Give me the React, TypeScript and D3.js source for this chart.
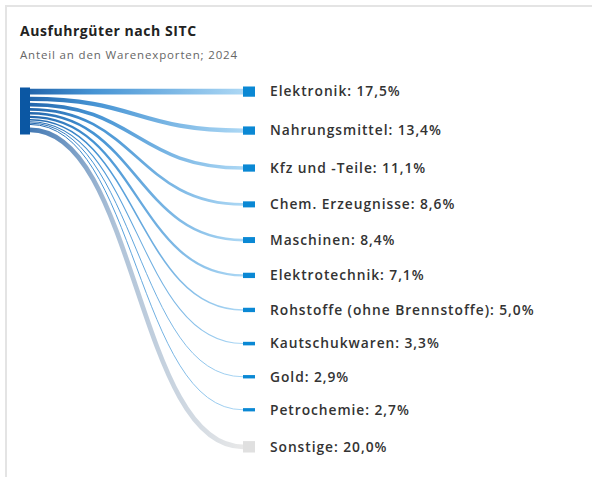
import React, { useEffect, useRef } from "react";
import * as d3 from "d3";

// Anteil an den Warenexporten 2024, in %
const categories = [
  "Elektronik",
  "Nahrungsmittel",
  "Kfz und -Teile",
  "Chem. Erzeugnisse",
  "Maschinen",
  "Elektrotechnik",
  "Rohstoffe (ohne Brennstoffe)",
  "Kautschukwaren",
  "Gold",
  "Petrochemie",
  "Sonstige",
];
const shares = [17.5, 13.4, 11.1, 8.6, 8.4, 7.1, 5.0, 3.3, 2.9, 2.7, 20.0];
const otherLabel = "Sonstige";

const title = "Ausfuhrgüter nach SITC";
const subtitle = "Anteil an den Warenexporten; 2024";

const W = 592;
const H = 477;

const App = () => {
  const ref = useRef<SVGSVGElement>(null);

  useEffect(() => {
    const svg = d3.select(ref.current);
    svg.selectAll("*").remove();

    const font = "'Open Sans', 'Noto Sans', sans-serif";
    const fmt = (v: number) => v.toFixed(1).replace(".", ",") + "%";

    // card frame
    svg
      .append("rect")
      .attr("x", 6)
      .attr("y", 6)
      .attr("width", W + 20)
      .attr("height", H + 20)
      .attr("fill", "#fff")
      .attr("stroke", "#e4e4e4")
      .attr("stroke-width", 2);

    svg
      .append("text")
      .attr("x", 20)
      .attr("y", 36)
      .attr("font-family", font)
      .attr("font-size", 14)
      .attr("font-weight", 700)
      .attr("letter-spacing", 0.55)
      .attr("fill", "#222")
      .text(title);

    svg
      .append("text")
      .attr("x", 20)
      .attr("y", 59)
      .attr("font-family", font)
      .attr("font-size", 11.5)
      .attr("letter-spacing", 0.85)
      .attr("fill", "#666")
      .text(subtitle);

    // sankey-like layout
    const top = 87.5;
    const nodePad = 31.7;
    const total = d3.sum(shares);
    const h = d3.scaleLinear().domain([0, 100]).range([0, 47]);
    const srcX0 = 20,
      srcX1 = 30,
      tgtX0 = 243,
      tgtX1 = 255;

    const srcOffsets = [0, ...d3.cumsum(shares.map((v) => h(v)))];
    const data = categories.map((c, i) => {
      const hh = h(shares[i]);
      const ty0 = top + d3.sum(shares.slice(0, i), (v) => h(v)) + i * nodePad;
      return {
        name: c,
        value: shares[i],
        w: hh,
        sy: top + srcOffsets[i] + hh / 2,
        ty: ty0 + hh / 2,
        other: c === otherLabel,
      };
    });

    const defs = svg.append("defs");
    data.forEach((d, i) => {
      const g = defs
        .append("linearGradient")
        .attr("id", "lg" + i)
        .attr("gradientUnits", "userSpaceOnUse")
        .attr("x1", srcX1)
        .attr("x2", tgtX0)
        .attr("y1", 0)
        .attr("y2", 0);
      if (d.other) {
        g.append("stop").attr("offset", 0).attr("stop-color", "#2f6aab");
        g.append("stop").attr("offset", 0.4).attr("stop-color", "#a6bcd4");
        g.append("stop").attr("offset", 1).attr("stop-color", "#e6e6e6");
      } else {
        g.append("stop").attr("offset", 0).attr("stop-color", "#0b55a3");
        g.append("stop").attr("offset", 0.3).attr("stop-color", "#3288cf");
        g.append("stop").attr("offset", 1).attr("stop-color", "#a3d3f3");
      }
    });

    const link = d3
      .linkHorizontal<any, [number, number]>()
      .source((d: any) => [srcX1, d.sy])
      .target((d: any) => [tgtX0, d.ty]);

    svg
      .append("g")
      .selectAll("path")
      .data(data)
      .join("path")
      .attr("d", (d) => link(d as any))
      .attr("fill", "none")
      .attr("stroke", (d, i) => `url(#lg${i})`)
      .attr("stroke-width", (d) => Math.max(1, d.w * (d.other ? 0.5 : 0.68)))
      .attr("stroke-opacity", 0.9);

    // source node
    svg
      .append("rect")
      .attr("x", srcX0)
      .attr("y", top)
      .attr("width", srcX1 - srcX0)
      .attr("height", h(total))
      .attr("fill", "#0b57a3");

    // target nodes
    svg
      .append("g")
      .selectAll("rect")
      .data(data)
      .join("rect")
      .attr("x", tgtX0)
      .attr("y", (d) => d.ty - (d.w + 2) / 2)
      .attr("width", tgtX1 - tgtX0)
      .attr("height", (d) => d.w + 2)
      .attr("fill", (d) => (d.other ? "#e0e0e0" : "#0a88d4"));

    svg
      .append("g")
      .selectAll("text")
      .data(data)
      .join("text")
      .attr("x", 270)
      .attr("y", (d) => d.ty)
      .attr("dy", "0.35em")
      .attr("font-family", font)
      .attr("font-size", 13.8)
      .attr("font-weight", 600)
      .attr("letter-spacing", 0.95)
      .attr("fill", "#333")
      .text((d) => `${d.name}: ${fmt(d.value)}`);
  }, []);

  return (
    <div style={{ position: "absolute", left: 0, top: 0 }}>
      <svg ref={ref} width={W} height={H} style={{ display: "block" }} />
    </div>
  );
};

export default App;
